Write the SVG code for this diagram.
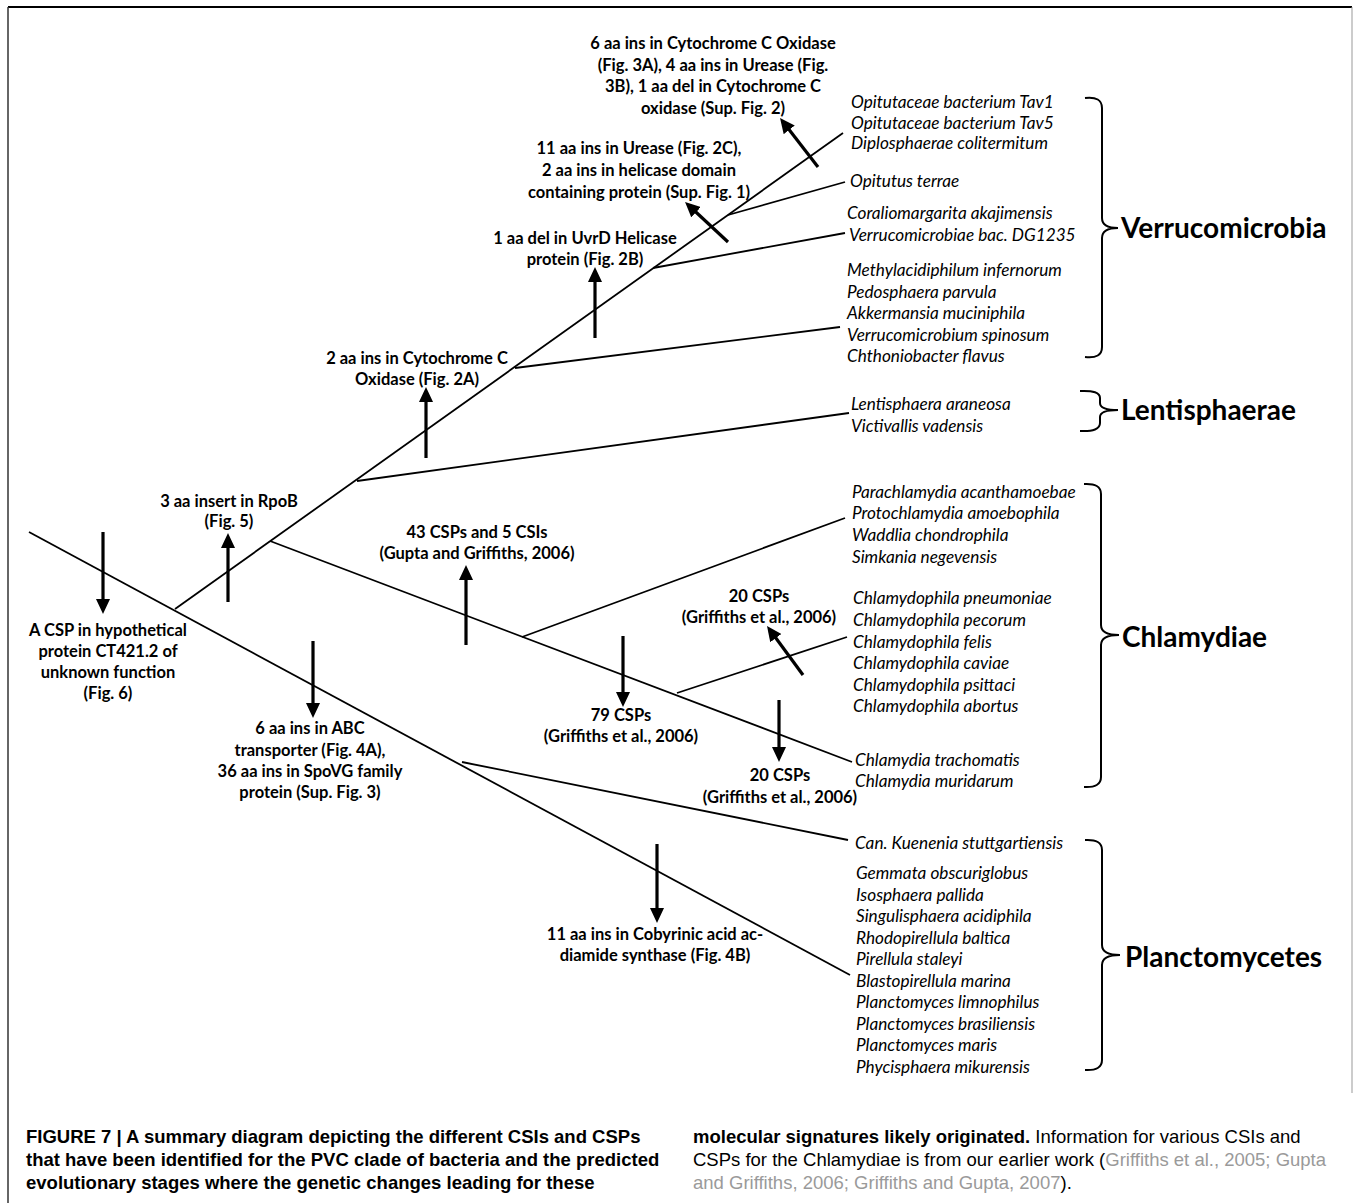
<svg xmlns="http://www.w3.org/2000/svg" width="1354" height="1203" viewBox="0 0 1354 1203">
<defs>
<marker id="ah" markerUnits="userSpaceOnUse" markerWidth="16" markerHeight="14" refX="1" refY="7" orient="auto">
<path d="M0,0 L15,7 L0,14 Z" fill="#000"/>
</marker>
<style>
.br{fill:none;stroke:#000;stroke-width:1.8}
.arr{fill:none;stroke:#000;stroke-width:3.2;marker-end:url(#ah)}
.brk{fill:none;stroke:#000;stroke-width:2}
.lb{font-family:Lato,"Open Sans","Liberation Sans",sans-serif;font-weight:bold;font-size:16.5px;text-anchor:middle;fill:#000}
.sp{font-family:Lato,"Open Sans","Liberation Sans",sans-serif;font-style:italic;font-size:17.2px;fill:#000}
.cl{font-family:Lato,"Open Sans","Liberation Sans",sans-serif;font-weight:bold;font-size:28px;fill:#000}
.cap{font-family:"Liberation Sans",Arial,sans-serif;font-size:18.5px;fill:#000}
.b{font-weight:bold}
.g{fill:#9a9a9a}
</style>
</defs>
<rect width="1354" height="1203" fill="#fff"/>
<g id="frame">
<line x1="8" y1="7" x2="1352" y2="7" stroke="#000" stroke-width="2"/>
<line x1="8" y1="7" x2="8" y2="1203" stroke="#333" stroke-width="1.5"/>
<line x1="1352" y1="7" x2="1352" y2="1093" stroke="#999" stroke-width="1"/>
</g>
<g id="connectors">
<line class="br" x1="29" y1="532" x2="850" y2="975"/>
<line class="br" x1="175" y1="609" x2="843" y2="133"/>
<line class="br" x1="728" y1="215" x2="845" y2="182"/>
<line class="br" x1="653" y1="268" x2="845" y2="233"/>
<line class="br" x1="515" y1="368" x2="840" y2="327"/>
<line class="br" x1="357" y1="481" x2="849" y2="413"/>
<line class="br" x1="270" y1="541" x2="852" y2="762"/>
<line class="br" x1="522" y1="637" x2="845" y2="518"/>
<line class="br" x1="677" y1="693" x2="847" y2="637"/>
<line class="br" x1="462" y1="762" x2="848" y2="840"/>
<line class="arr" x1="103" y1="532" x2="103" y2="600"/>
<line class="arr" x1="228" y1="602" x2="228" y2="547"/>
<line class="arr" x1="426" y1="458" x2="426" y2="401"/>
<line class="arr" x1="595" y1="338" x2="595" y2="281"/>
<line class="arr" x1="466" y1="645" x2="466" y2="579"/>
<line class="arr" x1="313" y1="641" x2="313" y2="704"/>
<line class="arr" x1="623" y1="636" x2="623" y2="693"/>
<line class="arr" x1="779" y1="700" x2="779" y2="748"/>
<line class="arr" x1="657" y1="844" x2="657" y2="909"/>
<line class="arr" x1="818" y1="167" x2="788.6" y2="129.1"/>
<line class="arr" x1="728" y1="242" x2="695.3" y2="211.5"/>
<line class="arr" x1="803" y1="675" x2="775.3" y2="637.3"/>
</g>
<g id="lbl-top">
<text class="lb" x="713" y="49">6 aa ins in Cytochrome C Oxidase</text>
<text class="lb" x="713" y="70.5">(Fig. 3A), 4 aa ins in Urease (Fig.</text>
<text class="lb" x="713" y="92">3B), 1 aa del in Cytochrome C</text>
<text class="lb" x="713" y="113.5">oxidase (Sup. Fig. 2)</text>
</g>
<g id="lbl-urease">
<text class="lb" x="639" y="154">11 aa ins in Urease (Fig. 2C),</text>
<text class="lb" x="639" y="176">2 aa ins in helicase domain</text>
<text class="lb" x="639" y="198">containing protein (Sup. Fig. 1)</text>
</g>
<g id="lbl-uvrd">
<text class="lb" x="585" y="244">1 aa del in UvrD Helicase</text>
<text class="lb" x="585" y="265">protein (Fig. 2B)</text>
</g>
<g id="lbl-cox">
<text class="lb" x="417" y="364">2 aa ins in Cytochrome C</text>
<text class="lb" x="417" y="385">Oxidase (Fig. 2A)</text>
</g>
<g id="lbl-rpob">
<text class="lb" x="229" y="507">3 aa insert in RpoB</text>
<text class="lb" x="229" y="527">(Fig. 5)</text>
</g>
<g id="lbl-43">
<text class="lb" x="477" y="538">43 CSPs and 5 CSIs</text>
<text class="lb" x="477" y="559">(Gupta and Griffiths, 2006)</text>
</g>
<g id="lbl-csp">
<text class="lb" x="108" y="636">A CSP in hypothetical</text>
<text class="lb" x="108" y="657">protein CT421.2 of</text>
<text class="lb" x="108" y="678">unknown function</text>
<text class="lb" x="108" y="699">(Fig. 6)</text>
</g>
<g id="lbl-abc">
<text class="lb" x="310" y="734">6 aa ins in ABC</text>
<text class="lb" x="310" y="756">transporter (Fig. 4A),</text>
<text class="lb" x="310" y="777">36 aa ins in SpoVG family</text>
<text class="lb" x="310" y="798">protein (Sup. Fig. 3)</text>
</g>
<g id="lbl-20a">
<text class="lb" x="759" y="602">20 CSPs</text>
<text class="lb" x="759" y="623">(Griffiths et al., 2006)</text>
</g>
<g id="lbl-79">
<text class="lb" x="621" y="721">79 CSPs</text>
<text class="lb" x="621" y="742">(Griffiths et al., 2006)</text>
</g>
<g id="lbl-20b">
<text class="lb" x="780" y="781">20 CSPs</text>
<text class="lb" x="780" y="803">(Griffiths et al., 2006)</text>
</g>
<g id="lbl-coby">
<text class="lb" x="655" y="940">11 aa ins in Cobyrinic acid ac-</text>
<text class="lb" x="655" y="961">diamide synthase (Fig. 4B)</text>
</g>
<g id="taxa-verrucomicrobia">
<text class="sp" x="851" y="108">Opitutaceae bacterium Tav1</text>
<text class="sp" x="851" y="129">Opitutaceae bacterium Tav5</text>
<text class="sp" x="851" y="149">Diplosphaerae colitermitum</text>
<text class="sp" x="850" y="187">Opitutus terrae</text>
<text class="sp" x="847" y="219">Coraliomargarita akajimensis</text>
<text class="sp" x="849" y="241">Verrucomicrobiae bac. DG1235</text>
<text class="sp" x="847" y="276">Methylacidiphilum infernorum</text>
<text class="sp" x="847" y="298">Pedosphaera parvula</text>
<text class="sp" x="847" y="319">Akkermansia muciniphila</text>
<text class="sp" x="847" y="341">Verrucomicrobium spinosum</text>
<text class="sp" x="847" y="362">Chthoniobacter flavus</text>
<path class="brk" d="M1085,98 Q1102,96 1102,108 L1102,218 Q1102,228 1118,228 Q1102,228 1102,238 L1102,347 Q1102,359 1085,357"/>
<text class="cl" x="1121" y="238">Verrucomicrobia</text>
</g>
<g id="taxa-lentisphaerae">
<text class="sp" x="851" y="410">Lentisphaera araneosa</text>
<text class="sp" x="851" y="432">Victivallis vadensis</text>
<path class="brk" d="M1080,391 Q1100,390 1100,398 L1100,403 Q1100,410 1118,410 Q1100,410 1100,417 L1100,423 Q1100,432 1080,431"/>
<text class="cl" x="1121" y="420">Lentisphaerae</text>
</g>
<g id="taxa-chlamydiae">
<text class="sp" x="852" y="498">Parachlamydia acanthamoebae</text>
<text class="sp" x="852" y="519">Protochlamydia amoebophila</text>
<text class="sp" x="852" y="541">Waddlia chondrophila</text>
<text class="sp" x="852" y="563">Simkania negevensis</text>
<text class="sp" x="853" y="604">Chlamydophila pneumoniae</text>
<text class="sp" x="853" y="626">Chlamydophila pecorum</text>
<text class="sp" x="853" y="648">Chlamydophila felis</text>
<text class="sp" x="853" y="669">Chlamydophila caviae</text>
<text class="sp" x="853" y="691">Chlamydophila psittaci</text>
<text class="sp" x="853" y="712">Chlamydophila abortus</text>
<text class="sp" x="855" y="766">Chlamydia trachomatis</text>
<text class="sp" x="855" y="787">Chlamydia muridarum</text>
<path class="brk" d="M1084,484 Q1101,483 1101,494 L1101,625 Q1101,635 1119,635 Q1101,635 1101,645 L1101,777 Q1101,788 1084,787"/>
<text class="cl" x="1122" y="647">Chlamydiae</text>
</g>
<g id="taxa-planctomycetes">
<text class="sp" x="855" y="849">Can. Kuenenia stuttgartiensis</text>
<text class="sp" x="856" y="879">Gemmata obscuriglobus</text>
<text class="sp" x="856" y="900.5">Isosphaera pallida</text>
<text class="sp" x="856" y="922">Singulisphaera acidiphila</text>
<text class="sp" x="856" y="943.5">Rhodopirellula baltica</text>
<text class="sp" x="856" y="965">Pirellula staleyi</text>
<text class="sp" x="856" y="986.5">Blastopirellula marina</text>
<text class="sp" x="856" y="1008">Planctomyces limnophilus</text>
<text class="sp" x="856" y="1029.5">Planctomyces brasiliensis</text>
<text class="sp" x="856" y="1051">Planctomyces maris</text>
<text class="sp" x="856" y="1072.5">Phycisphaera mikurensis</text>
<path class="brk" d="M1085,840 Q1102,839 1102,850 L1102,945 Q1102,955 1120,955 Q1102,955 1102,965 L1102,1060 Q1102,1071 1085,1070"/>
<text class="cl" x="1125" y="967">Planctomycetes</text>
</g>
<g id="caption">
<text class="cap b" x="26" y="1143">FIGURE 7 | A summary diagram depicting the different CSIs and CSPs</text>
<text class="cap b" x="26" y="1166">that have been identified for the PVC clade of bacteria and the predicted</text>
<text class="cap b" x="26" y="1189">evolutionary stages where the genetic changes leading for these</text>
<text class="cap" x="693" y="1143"><tspan class="b">molecular signatures likely originated.</tspan> Information for various CSIs and</text>
<text class="cap" x="693" y="1166">CSPs for the Chlamydiae is from our earlier work (<tspan class="g">Griffiths et al., 2005; Gupta</tspan></text>
<text class="cap" x="693" y="1189"><tspan class="g">and Griffiths, 2006; Griffiths and Gupta, 2007</tspan>).</text>
</g>
</svg>
